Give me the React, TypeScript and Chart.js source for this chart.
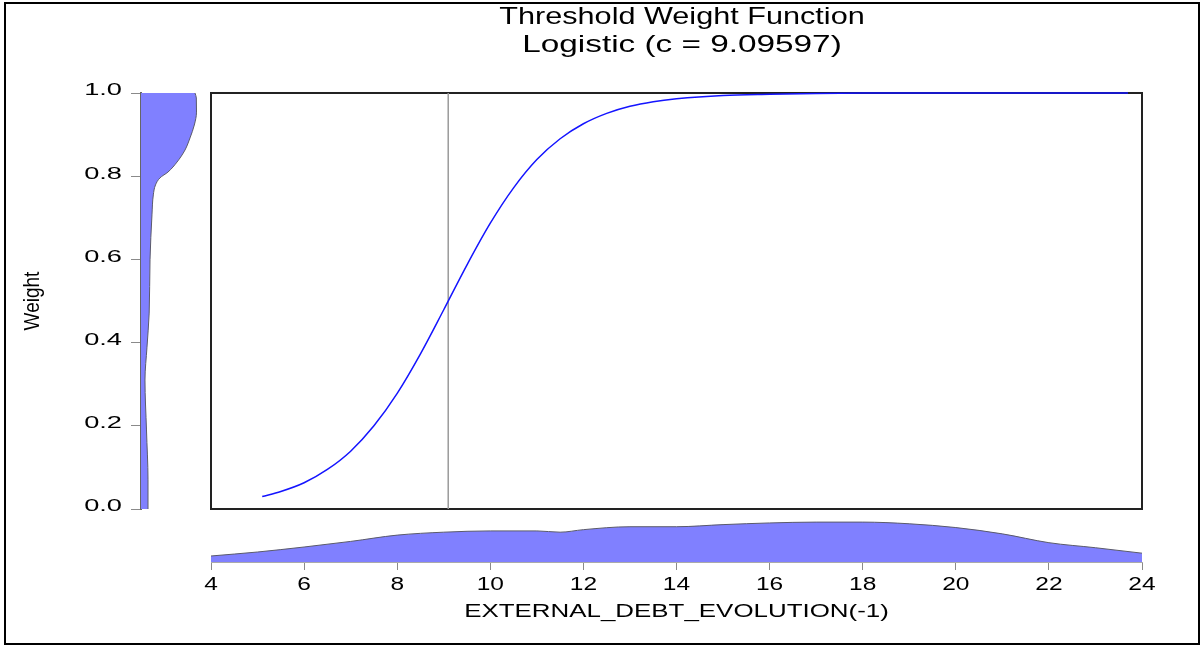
import React, { useEffect, useRef } from 'react';
import { Chart, registerables } from 'chart.js';

Chart.register(...registerables);

// ---------- data ----------
const TITLE_LINES = ['Threshold Weight Function', 'Logistic (c = 9.09597)'];
const X_TITLE = 'EXTERNAL_DEBT_EVOLUTION(-1)';
const Y_TITLE = 'Weight';
const THRESHOLD_C = 9.09597;

// logistic weight curve
const CURVE_X = [5.1, 5.5, 6, 6.5, 7, 7.5, 8, 8.5, 9, 9.5, 10, 10.5, 11, 11.5, 12, 12.5, 13, 13.5, 14, 15, 16, 17, 18, 20, 22, 23.7];
const CURVE_W = [0.03, 0.042, 0.063, 0.095, 0.139, 0.2, 0.278, 0.373, 0.479, 0.587, 0.687, 0.772, 0.84, 0.89, 0.926, 0.951, 0.968, 0.979, 0.986, 0.994, 0.997, 0.999, 1.0, 1.0, 1.0, 1.0];

// tick values / labels
const X_TICKS = [4, 6, 8, 10, 12, 14, 16, 18, 20, 22, 24];
const Y_TICKS = [0, 0.2, 0.4, 0.6, 0.8, 1.0];
const Y_TICK_LABELS = ['0.0', '0.2', '0.4', '0.6', '0.8', '1.0'];

// kernel density of the threshold variable (bottom strip, relative height)
const XDENS_X = [4, 5, 6, 7, 8, 9, 10, 11, 11.5, 12, 13, 14, 15, 16, 17, 18, 19, 20, 21, 22, 23, 24];
const XDENS_D = [0.143, 0.238, 0.357, 0.49, 0.64, 0.71, 0.74, 0.74, 0.71, 0.77, 0.84, 0.84, 0.89, 0.93, 0.95, 0.95, 0.91, 0.82, 0.67, 0.46, 0.34, 0.21];

// kernel density of the weights (left strip, relative width)
const WDENS_W = [0.0, 0.07, 0.19, 0.31, 0.389, 0.471, 0.599, 0.707, 0.755, 0.779, 0.796, 0.81, 0.834, 0.863, 0.892, 0.923, 0.954, 0.988, 1.0];
const WDENS_D = [0.125, 0.125, 0.098, 0.071, 0.107, 0.146, 0.161, 0.196, 0.22, 0.259, 0.339, 0.482, 0.643, 0.786, 0.875, 0.952, 0.991, 0.988, 0.964];

// ---------- styles ----------
const FONT = "'Liberation Sans', Arial, Helvetica, sans-serif";
const DENS_FILL = '#8080ff';
const DENS_EDGE = '#5a5a6a';

// horizontally stretched text (the reference is rendered wide)
function stretchPlugin(sxFor: (text: string, rotated: boolean) => number) {
  return {
    id: 'stretchText',
    beforeDraw(chart: any) {
      const ctx = chart.ctx as any;
      if (ctx.__stretched) return;
      ctx.__stretched = true;
      const orig = ctx.fillText.bind(ctx);
      ctx.fillText = (text: string, x: number, y: number, maxWidth?: number) => {
        const m = ctx.getTransform();
        const rotated = Math.abs(m.b) > 1e-6 || Math.abs(m.c) > 1e-6;
        const s = sxFor(String(text), rotated);
        const p = m.transformPoint(new DOMPoint(x, y));
        ctx.save();
        ctx.setTransform(new DOMMatrix().translate(p.x, p.y).scale(s, 1).translate(-p.x, -p.y).multiply(m));
        if (maxWidth === undefined || maxWidth === null) orig(text, x, y);
        else orig(text, x, y, maxWidth);
        ctx.restore();
      };
    },
  };
}

const framePlugin = {
  id: 'frame',
  beforeDatasetsDraw(chart: any) {
    const { ctx, chartArea } = chart;
    ctx.save();
    ctx.strokeStyle = '#222';
    ctx.lineWidth = 2;
    ctx.strokeRect(chartArea.left, chartArea.top, chartArea.right - chartArea.left, chartArea.bottom - chartArea.top);
    ctx.restore();
  },
};

const noPlugins = {
  legend: { display: false },
  tooltip: { enabled: false },
};

export default function App() {
  const mainRef = useRef<HTMLCanvasElement>(null);
  const leftRef = useRef<HTMLCanvasElement>(null);
  const bottomRef = useRef<HTMLCanvasElement>(null);

  useEffect(() => {
    const charts: Chart[] = [];

    // main plot
    charts.push(
      new Chart(mainRef.current as HTMLCanvasElement, {
        type: 'line',
        data: {
          datasets: [
            {
              label: 'threshold',
              data: [
                { x: THRESHOLD_C, y: 0 },
                { x: THRESHOLD_C, y: 1 },
              ],
              borderColor: '#9a9a9a',
              borderWidth: 1.5,
              pointRadius: 0,
              fill: false,
              order: 2,
            },
            {
              label: 'weight',
              data: CURVE_X.map((x, i) => ({ x, y: CURVE_W[i] })),
              borderColor: '#1414ff',
              borderWidth: 1.5,
              pointRadius: 0,
              cubicInterpolationMode: 'monotone',
              fill: false,
              clip: 4,
              order: 1,
            },
          ],
        } as any,
        options: {
          responsive: false,
          animation: false,
          events: [],
          layout: { padding: { left: 211, right: 47, top: 0, bottom: 136 } },
          scales: {
            x: { type: 'linear', min: 4, max: 24, display: false },
            y: { type: 'linear', min: 0, max: 1, display: false },
            yR: {
              type: 'linear',
              position: 'right',
              display: true,
              ticks: { display: false },
              grid: { display: false },
              border: { display: false },
              afterFit: (s: any) => {
                s.width = 11;
              },
            },
          },
          plugins: {
            ...noPlugins,
            title: {
              display: true,
              text: TITLE_LINES,
              color: '#000',
              font: { family: FONT, size: 24.5, weight: 'normal', lineHeight: 1.155 },
              padding: { top: 3, bottom: 33.4 },
            },
          },
        } as any,
        plugins: [framePlugin, stretchPlugin((t) => (t === TITLE_LINES[1] ? 1.36 : 1.25))],
      })
    );

    // left strip: density of weights + y axis
    charts.push(
      new Chart(leftRef.current as HTMLCanvasElement, {
        type: 'line',
        data: {
          datasets: [
            {
              data: WDENS_W.map((w, i) => ({ x: WDENS_D[i], y: w })),
              fill: 'origin',
              backgroundColor: DENS_FILL,
              borderColor: DENS_EDGE,
              borderWidth: 1,
              pointRadius: 0,
              cubicInterpolationMode: 'monotone',
            },
          ],
        } as any,
        options: {
          indexAxis: 'y',
          responsive: false,
          animation: false,
          events: [],
          layout: { padding: { left: 0, right: 1003, top: 93, bottom: 136 } },
          scales: {
            x: { type: 'linear', min: 0, max: 1, display: false },
            y: {
              type: 'linear',
              position: 'left',
              min: 0,
              max: 1,
              afterBuildTicks: (s: any) => {
                s.ticks = Y_TICKS.map((v) => ({ value: v }));
              },
              ticks: {
                callback: (v: any) => Y_TICK_LABELS[Y_TICKS.indexOf(Number(v))],
                color: '#000',
                font: { family: FONT, size: 16 },
                padding: 9,
                labelOffset: -2,
              },
              grid: {
                display: true,
                drawOnChartArea: false,
                drawTicks: true,
                tickLength: 10,
                color: '#8a8a8a',
                tickColor: '#8a8a8a',
              },
              border: { display: true, color: '#666', width: 2 },
              title: {
                display: true,
                text: Y_TITLE,
                color: '#000',
                font: { family: FONT, size: 19 },
                padding: { top: 21.6, bottom: 0 },
              },
              afterFit: (s: any) => {
                s.width = 141;
              },
            },
          },
          plugins: { ...noPlugins, title: { display: false } },
        } as any,
        plugins: [stretchPlugin((_t, rot) => (rot ? 1.2 : 1.7))],
      })
    );

    // bottom strip: density of threshold variable + x axis
    charts.push(
      new Chart(bottomRef.current as HTMLCanvasElement, {
        type: 'line',
        data: {
          datasets: [
            {
              data: XDENS_X.map((x, i) => ({ x, y: XDENS_D[i] })),
              fill: 'origin',
              backgroundColor: DENS_FILL,
              borderColor: DENS_EDGE,
              borderWidth: 1,
              pointRadius: 0,
              cubicInterpolationMode: 'monotone',
            },
          ],
        } as any,
        options: {
          responsive: false,
          animation: false,
          events: [],
          layout: { padding: { left: 211, right: 58, top: 520, bottom: 0 } },
          scales: {
            x: {
              type: 'linear',
              position: 'bottom',
              min: 4,
              max: 24,
              afterBuildTicks: (s: any) => {
                s.ticks = X_TICKS.map((v) => ({ value: v }));
              },
              ticks: {
                callback: (v: any) => String(v),
                color: '#000',
                font: { family: FONT, size: 17.5 },
                padding: 5,
                maxRotation: 0,
                autoSkip: false,
              },
              grid: {
                display: true,
                drawOnChartArea: false,
                drawTicks: true,
                tickLength: 8,
                color: '#8a8a8a',
                tickColor: '#8a8a8a',
              },
              border: { display: true, color: '#aaa', width: 1 },
              title: {
                display: true,
                text: X_TITLE,
                color: '#000',
                font: { family: FONT, size: 18.5 },
                padding: { top: 0, bottom: 21.9 },
              },
              afterFit: (s: any) => {
                s.height = 83;
              },
            },
            y: { type: 'linear', min: 0, max: 1, display: false },
          },
          plugins: { ...noPlugins, title: { display: false } },
        } as any,
        plugins: [stretchPlugin(() => 1.4)],
      })
    );

    return () => {
      charts.forEach((c) => c.destroy());
    };
  }, []);

  const canvasStyle: React.CSSProperties = { position: 'absolute', left: 0, top: 0 };

  return (
    <div
      style={{
        position: 'fixed',
        left: 0,
        top: 0,
        width: 1200,
        height: 645,
        background: '#fff',
        overflow: 'hidden',
      }}
    >
      <div
        style={{
          position: 'absolute',
          left: 4,
          top: 2,
          width: 1196,
          height: 643,
          border: '2px solid #000',
          boxSizing: 'border-box',
        }}
      />
      <canvas ref={leftRef} width={1200} height={645} style={canvasStyle} />
      <canvas ref={bottomRef} width={1200} height={645} style={canvasStyle} />
      <canvas ref={mainRef} width={1200} height={645} style={canvasStyle} />
    </div>
  );
}
